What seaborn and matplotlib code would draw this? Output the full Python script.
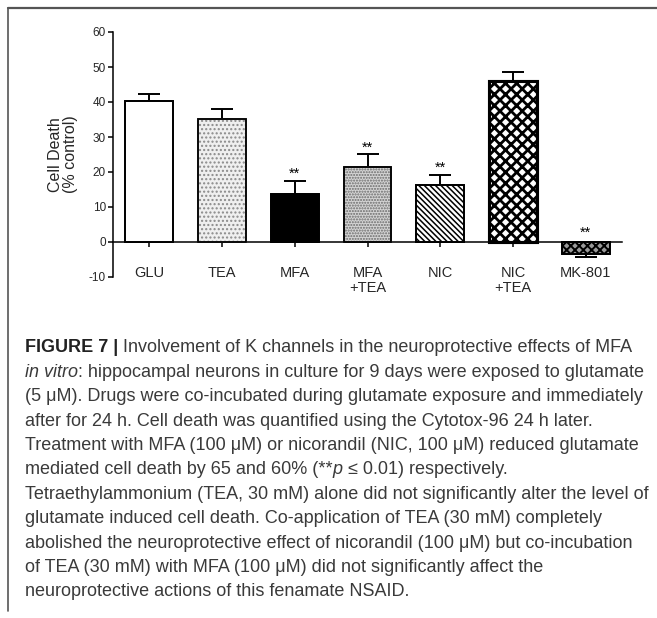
import numpy as np
import pandas as pd
import matplotlib
matplotlib.use("Agg")
import matplotlib.pyplot as plt
import seaborn as sns
from matplotlib import font_manager
from matplotlib.lines import Line2D

# ---------------- data ----------------
categories = ["GLU", "TEA", "MFA", "MFA\n+TEA", "NIC", "NIC\n+TEA", "MK-801"]
means = [40.3, 35.0, 13.7, 21.3, 16.4, 46.1, -3.5]
sems = [2.0, 3.0, 3.8, 3.8, 2.8, 2.5, 0.8]
significant = [False, False, True, True, True, False, True]
yticks = [-10, 0, 10, 20, 30, 40, 50, 60]
ylabel = "Cell Death\n(% control)"

caption_lines = [
    [("FIGURE 7 | ", "bold", "normal"), ("Involvement of K channels in the neuroprotective effects of MFA", "normal", "normal")],
    [("in vitro", "normal", "italic"), (": hippocampal neurons in culture for 9 days were exposed to glutamate", "normal", "normal")],
    [("(5 \u03bcM). Drugs were co-incubated during glutamate exposure and immediately", "normal", "normal")],
    [("after for 24 h. Cell death was quantified using the Cytotox-96 24 h later.", "normal", "normal")],
    [("Treatment with MFA (100 \u03bcM) or nicorandil (NIC, 100 \u03bcM) reduced glutamate", "normal", "normal")],
    [("mediated cell death by 65 and 60% (**", "normal", "normal"), ("p", "normal", "italic"), (" \u2264 0.01) respectively.", "normal", "normal")],
    [("Tetraethylammonium (TEA, 30 mM) alone did not significantly alter the level of", "normal", "normal")],
    [("glutamate induced cell death. Co-application of TEA (30 mM) completely", "normal", "normal")],
    [("abolished the neuroprotective effect of nicorandil (100 \u03bcM) but co-incubation", "normal", "normal")],
    [("of TEA (30 mM) with MFA (100 \u03bcM) did not significantly affect the", "normal", "normal")],
    [("neuroprotective actions of this fenamate NSAID.", "normal", "normal")],
]

# ---------------- styles ----------------
face_colors = ["white", "#efefef", "black", "#d4d4d4", "white", "white", "#9a9a9a"]
hatch_list = [None, "....", None, "......", "\\\\\\\\\\\\", "xxx", "xxxx"]
hatch_colors = ["black", "#8a8a8a", "black", "#6a6a6a", "black", "black", "black"]
hatch_widths = [1.0, 1.0, 1.0, 1.0, 1.1, 2.0, 1.4]
edge_widths = [1.3, 1.3, 1.3, 1.3, 1.3, 2.2, 1.3]

sns.set_theme(style="white")
names = {f.name for f in font_manager.fontManager.ttflist}
plt.rcParams["font.family"] = ["Liberation Sans", "DejaVu Sans"]
cap_family = "Liberation Sans Narrow" if "Liberation Sans Narrow" in names else "Liberation Sans"

W, H = 657, 618
fig = plt.figure(figsize=(W / 100, H / 100), dpi=100)
fig.patch.set_facecolor("white")

ax = fig.add_axes([113 / W, 1 - 277 / H, (622 - 113) / W, (277 - 32) / H])

df = pd.DataFrame({"cat": categories, "val": means})
sns.barplot(data=df, x="cat", y="val", ax=ax, width=0.66, color="white",
            edgecolor="black", linewidth=1.3, errorbar=None, saturation=1)

for i, p in enumerate(ax.patches):
    p.set_facecolor(face_colors[i])
    p.set_edgecolor(hatch_colors[i])
    if hatch_list[i]:
        p.set_hatch(hatch_list[i])
        try:
            p.set_hatch_linewidth(hatch_widths[i])
        except Exception:
            pass
    p.set_linewidth(edge_widths[i])
    p.set_zorder(3)

# black outlines on top (hatch colour follows edgecolor)
for i, p in enumerate(ax.patches[:len(categories)]):
    ax.add_patch(plt.Rectangle((p.get_x(), p.get_y()), p.get_width(), p.get_height(), fill=False,
                               edgecolor="black", linewidth=edge_widths[i], zorder=4))

xs = np.arange(len(categories))
lower = [s if m < 0 else 0 for m, s in zip(means, sems)]
upper = [0 if m < 0 else s for m, s in zip(means, sems)]
ax.errorbar(xs, means, yerr=[lower, upper], fmt="none", ecolor="black",
            elinewidth=1.4, capsize=8, capthick=1.4, zorder=2)

for x, m, s, sig in zip(xs, means, sems, significant):
    if sig:
        top = m + s if m > 0 else 0.6
        ax.text(x, top + 1.9, "**", ha="center", va="center", fontsize=10.5, color="black", zorder=5)

ax.set_ylim(-10, 60)
ax.set_xlim(-0.5, 6.5)
ax.set_yticks(yticks)
ax.set_yticklabels([str(t) for t in yticks], fontsize=8.5)
ax.set_xlabel("")
ax.set_ylabel(ylabel, fontsize=11.5, labelpad=8, linespacing=1.0)
ax.spines["top"].set_visible(False)
ax.spines["right"].set_visible(False)
ax.spines["bottom"].set_position(("data", 0))
for s in ["left", "bottom"]:
    ax.spines[s].set_color("black")
    ax.spines[s].set_linewidth(1.1)
ax.tick_params(axis="y", direction="out", length=3.5, width=1.1, color="black", pad=1.5, left=True)
ax.tick_params(axis="x", direction="out", length=3.5, width=1.1, color="black", pad=14, bottom=True,
               labelsize=10.5)
ax.set_xticks(xs)
ax.set_xticklabels(categories, fontsize=10.5, linespacing=1.1)
for lab in ax.get_xticklabels():
    lab.set_verticalalignment("top")
ax.set_facecolor("white")
ax.grid(False)

# ---------------- frame ----------------
fig.add_artist(Line2D([8 / W, 1], [1 - 8 / H, 1 - 8 / H], transform=fig.transFigure,
                      color="#555555", linewidth=1.6))
fig.add_artist(Line2D([8 / W, 8 / W], [1 - 8 / H, 1 - 611 / H], transform=fig.transFigure,
                      color="#555555", linewidth=1.2))

# ---------------- caption ----------------
renderer = fig.canvas.get_renderer()

def line_width(segs, size):
    total = 0
    for txt, wt, st in segs:
        t = fig.text(0, 0, txt, fontsize=size, family=cap_family, weight=wt, style=st)
        total += t.get_window_extent(renderer).width
        t.remove()
    return total

base = 12
wmax = max(line_width(segs, base) for segs in caption_lines)
size = base * (626 / wmax)

x0 = 25
y0 = 348
dy = 24.4
for k, segs in enumerate(caption_lines):
    x = x0
    y = y0 + k * dy
    for txt, wt, st in segs:
        t = fig.text(x / W, 1 - y / H, txt, fontsize=size, family=cap_family, weight=wt,
                     style=st, color="#222222" if wt == "bold" else "#3a3a3a", va="center", ha="left")
        x += t.get_window_extent(renderer).width

fig.savefig("out.png", dpi=100, facecolor="white")
